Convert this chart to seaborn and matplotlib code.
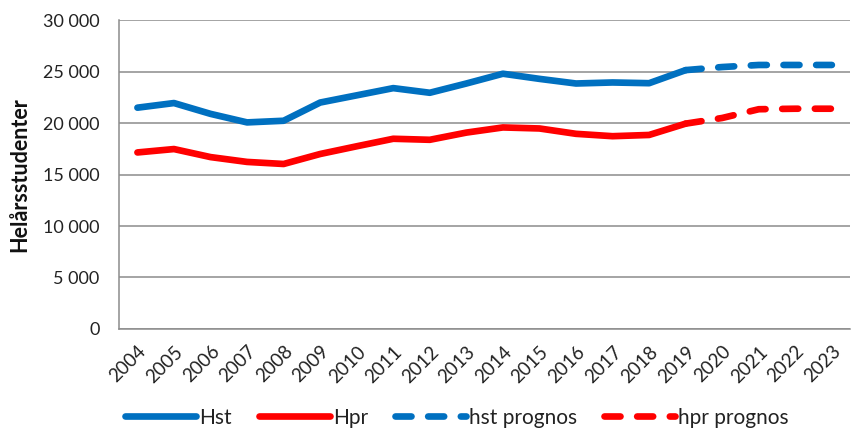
import matplotlib
matplotlib.use("Agg")
import matplotlib.pyplot as plt
import seaborn as sns
import pandas as pd
from matplotlib.ticker import FuncFormatter, MultipleLocator, FixedLocator
from matplotlib.lines import Line2D

years = list(range(2004, 2024))
hst_years = list(range(2004, 2020))
hst = [21500, 21950, 20900, 20070, 20230, 22000, 22700, 23400, 22950, 23850,
       24800, 24300, 23850, 23950, 23880, 25150]
hpr = [17150, 17480, 16700, 16230, 16030, 17000, 17750, 18480, 18380, 19080,
       19580, 19480, 18960, 18730, 18850, 19950]
prog_years = [2019, 2020, 2021, 2022, 2023]
hst_prog = [25150, 25450, 25650, 25650, 25650]
hpr_prog = [19950, 20500, 21350, 21400, 21400]

sns.set_theme(style="white")
plt.rcParams['font.family'] = ['Lato', 'DejaVu Sans']

fig = plt.figure(figsize=(8.51, 4.30), dpi=100)
ax = fig.add_axes([0.14, 0.235, 0.859, 0.718])

blue = "#0070C0"
red = "#FF0000"
lw = 4.8

df_hst = pd.DataFrame({"year": hst_years, "v": hst})
df_hpr = pd.DataFrame({"year": hst_years, "v": hpr})
df_hstp = pd.DataFrame({"year": prog_years, "v": hst_prog})
df_hprp = pd.DataFrame({"year": prog_years, "v": hpr_prog})

sns.lineplot(data=df_hst, x="year", y="v", ax=ax, color=blue, lw=lw,
             solid_capstyle="round", solid_joinstyle="round", zorder=3)
sns.lineplot(data=df_hpr, x="year", y="v", ax=ax, color=red, lw=lw,
             solid_capstyle="round", solid_joinstyle="round", zorder=3)
sns.lineplot(data=df_hstp, x="year", y="v", ax=ax, color=blue, lw=lw,
             dashes=False, zorder=3)
sns.lineplot(data=df_hprp, x="year", y="v", ax=ax, color=red, lw=lw,
             dashes=False, zorder=3)
for ln in ax.lines[2:4]:
    ln.set_dashes((2.4, 2.5))
    ln.set_dash_capstyle("round")

ax.set_xlim(2003.5, 2023.5)
ax.set_ylim(0, 30000)
ax.yaxis.set_major_locator(MultipleLocator(5000))
ax.yaxis.set_major_formatter(FuncFormatter(lambda v, p: f"{int(v):,}".replace(",", " ")))
ax.grid(axis="y", color="#8c8c8c", lw=1.1, zorder=0)
ax.set_axisbelow(True)

ax.set_xticks(years)
ax.set_xticklabels([str(y) for y in years], rotation=45, ha="right",
                   rotation_mode="anchor", fontsize=13.5)
ax.xaxis.set_minor_locator(FixedLocator([y - 0.5 for y in years] + [2023.5]))
ax.tick_params(axis="x", which="major", length=0, pad=10)
ax.tick_params(axis="x", which="minor", length=5, color="#8c8c8c", width=1.1, direction="out")
ax.tick_params(axis="y", length=5, color="#8c8c8c", width=1.1, direction="out", labelsize=13, pad=9)
for lab in ax.get_xticklabels():
    lab.set_color("#222222")
for lab in ax.get_yticklabels():
    lab.set_color("#222222")

for s in ["top", "right"]:
    ax.spines[s].set_visible(False)
for s in ["left", "bottom"]:
    ax.spines[s].set_color("#8c8c8c")
    ax.spines[s].set_linewidth(1.1)

ax.set_xlabel("")
ax.set_ylabel("Helårsstudenter", fontsize=15.5, fontweight="bold", color="#111111", labelpad=6)
ax.yaxis.set_label_coords(-0.122, 0.5)

handles = [
    Line2D([], [], color=blue, lw=lw, solid_capstyle="round"),
    Line2D([], [], color=red, lw=lw, solid_capstyle="round"),
    Line2D([], [], color=blue, lw=lw, dashes=(2.4, 2.5), dash_capstyle="round"),
    Line2D([], [], color=red, lw=lw, dashes=(2.4, 2.5), dash_capstyle="round"),
]
labels = ["Hst", "Hpr", "hst prognos", "hpr prognos"]
fig.legend(handles, labels, loc="lower center", bbox_to_anchor=(0.537, -0.038), ncol=4,
           frameon=False, fontsize=15, handlelength=3.4, handletextpad=0.15,
           columnspacing=1.3, labelcolor="#222222")

fig.savefig("out.png", dpi=100)
